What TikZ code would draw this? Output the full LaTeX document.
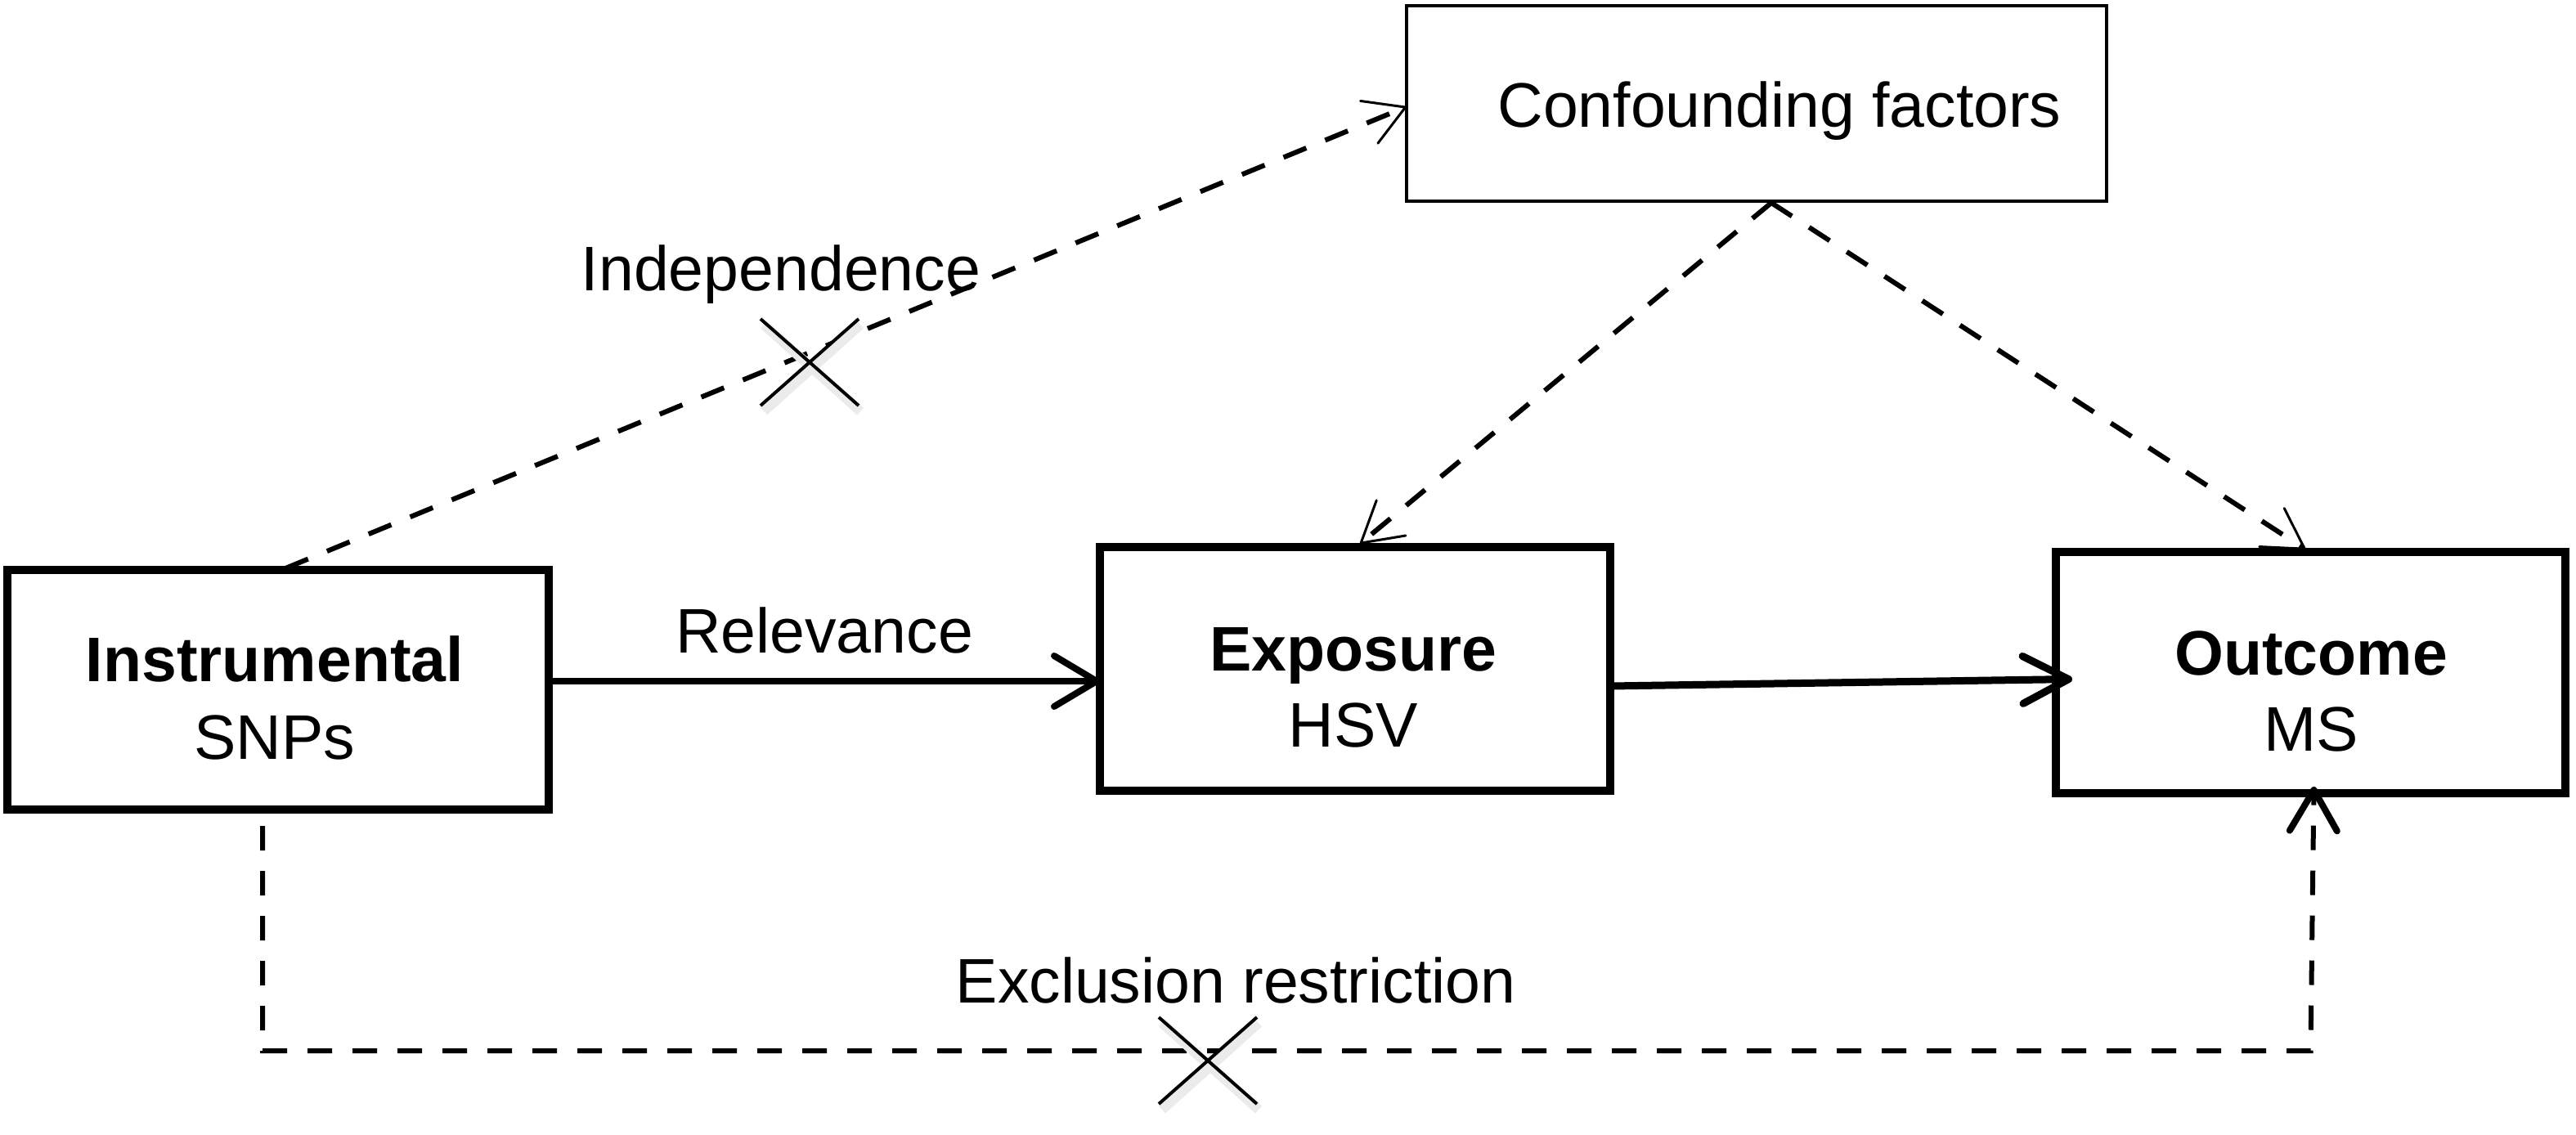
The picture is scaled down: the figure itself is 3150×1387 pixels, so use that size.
\documentclass[tikz,border=0pt]{standalone}
\usepackage{fontspec}
\setmainfont{Liberation Sans}
\usetikzlibrary{arrows.meta,calc}
\begin{document}
\begin{tikzpicture}[x=1pt,y=-1pt,
  box/.style={draw, rectangle, line width=10pt, inner sep=0pt, outer sep=0pt},
  thinbox/.style={draw, rectangle, line width=4pt, inner sep=0pt, outer sep=0pt},
  txt/.style={inner sep=0pt, outer sep=0pt, anchor=base, font=\fontsize{77}{92}\selectfont},
  dsh/.style={line width=6pt, dash pattern=on 30pt off 25pt},
  bigtip/.tip={Straight Barb[length=52pt,width=62pt,round]},
  thintip/.tip={Straight Barb[length=48pt,width=56pt,line width=3pt,round]},
  xline/.style={line width=4pt},
  xshadow/.style={line width=12pt, black!8},
]
\useasboundingbox (0,0) rectangle (3150,1387);

% boxes
\node[box, minimum width=662pt, minimum height=293pt] (ins) at (340,843.5) {};
\node[box, minimum width=624pt, minimum height=298pt] (exp) at (1657,818) {};
\node[box, minimum width=623pt, minimum height=295pt] (out) at (2825.5,822.5) {};
\node[thinbox, minimum width=856pt, minimum height=239pt] (conf) at (2148,126.5) {};

% box texts
\node[txt] (insA) at (336,833) {\bfseries Instrumental};
\node[txt] (insB) at (336,928) {SNPs};
\node[txt] (expA) at (1655,820) {\bfseries Exposure};
\node[txt] (expB) at (1655,913) {HSV};
\node[txt] (outA) at (2826,825) {\bfseries Outcome};
\node[txt] (outB) at (2826,918) {MS};
\node[txt] (confA) at (2176,155) {Confounding factors};

% labels
\node[txt] (lind) at (955,355) {Independence};
\node[txt] (lrel) at (1008,798) {Relevance};
\node[txt] (lexc) at (1511,1226) {Exclusion restriction};

% relevance
\coordinate (r) at (1000,833);
\draw[line width=8pt, -{bigtip}] (ins.east |- r) -- (exp.west |- r);

% exposure -> outcome
\draw[line width=9pt, -{Straight Barb[length=56pt,width=58pt,round]}]
  ($(exp.east)+(0,21)$) -- ($(out.west)+(20,8)$);

% confounding -> exposure / outcome
\coordinate (apex) at ($(conf.south)+(18,2)$);
\draw[dsh, -{thintip}] (apex) -- ($(exp.north)+(6,-4)$);
\draw[dsh, -{thintip}] (apex) -- ($(out.north)+(-6,-3)$);

% independence
\draw[dsh, -{thintip}] ($(ins.north west)+(340,-2)$) -- ($(conf.west)+(0,4)$);

% exclusion restriction
\coordinate (c1) at ($(ins.south west)+(312,20)$);
\coordinate (c2) at (321,1285);
\draw[dsh, -{Straight Barb[length=50pt,width=58pt,line width=8pt,round]}]
  (c1) -- (c2) -- (c2 -| out.south) -- ($(out.south)+(4,-8)$);

% crosses
\coordinate (x1) at (990,443);
\coordinate (x2) at (1477,1297);
\foreach \c in {x1,x2}{
  \draw[xshadow] ($(\c)+(-56,-46)$) -- ($(\c)+(62,60)$);
  \draw[xshadow] ($(\c)+(-56,60)$) -- ($(\c)+(62,-46)$);
  \draw[xline] ($(\c)+(-60,-53)$) -- ($(\c)+(60,53)$);
  \draw[xline] ($(\c)+(-60,53)$) -- ($(\c)+(60,-53)$);
}
\end{tikzpicture}
\end{document}
